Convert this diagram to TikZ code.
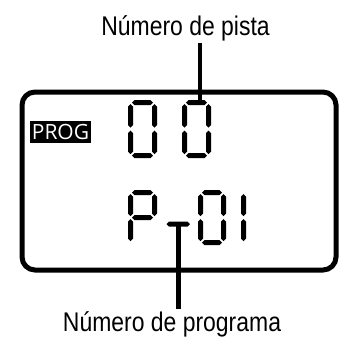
\documentclass[tikz,border=0pt]{standalone}
\usepackage{fontspec}
\setmainfont{Liberation Sans}
\newfontfamily\progfont{Open Sans}
\newcommand\hseg[3]{\fill ({#1},{#3}) -- ({#1+2.5},{#3-2.5}) -- ({#2-2.5},{#3-2.5}) -- ({#2},{#3}) -- ({#2-2.5},{#3+2.5}) -- ({#1+2.5},{#3+2.5}) -- cycle;}
\newcommand\vseg[3]{\fill ({#1},{#2}) -- ({#1+2.5},{#2+2.5}) -- ({#1+2.5},{#3-2.5}) -- ({#1},{#3}) -- ({#1-2.5},{#3-2.5}) -- ({#1-2.5},{#2+2.5}) -- cycle;}
\newcommand\lcdsega{\hseg{\xl+1.5}{\xr-1.5}{\yt}}
\newcommand\lcdsegb{\vseg{\xr}{\yt+1.5}{\ym-1.5}}
\newcommand\lcdsegc{\vseg{\xr}{\ym+1.5}{\yb-1.5}}
\newcommand\lcdsegd{\hseg{\xl+1.5}{\xr-1.5}{\yb}}
\newcommand\lcdsege{\vseg{\xl}{\ym+1.5}{\yb-1.5}}
\newcommand\lcdsegf{\vseg{\xl}{\yt+1.5}{\ym-1.5}}
\newcommand\lcdsegg{\hseg{\xl+1.5}{\xr-1.5}{\ym}}
\newcommand\lcddigit[5]{%
  \pgfmathsetmacro\xl{#1+2.5}\pgfmathsetmacro\xr{#1+#3-2.5}%
  \pgfmathsetmacro\yt{#2+2.5}\pgfmathsetmacro\yb{#2+#4-2.5}\pgfmathsetmacro\ym{#2+#4/2}%
  \foreach \s in {#5}{\csname lcdseg\s\endcsname}}
\tikzset{
  frame/.style={line width=5pt, rounded corners=13pt},
  conn/.style={line width=4.5pt},
  lbl/.style={font=\fontsize{27}{30}\selectfont, inner sep=2pt, anchor=base},
  progbox/.style={fill=black, text=white, font=\progfont\fontsize{21}{22}\selectfont, minimum width=61pt, minimum height=22pt, inner sep=0pt}
}
\begin{document}
\begin{tikzpicture}[x=1pt,y=-1pt]
\useasboundingbox (0,0) rectangle (339,338);
\draw[frame] (22,92) rectangle (336,270);
\node[progbox] (prog) at (60.5,132) {PROG};
% top row 0 0
\lcddigit{128}{100}{29}{58}{a,b,c,d,e,f}
\lcddigit{182}{100}{29}{58}{a,b,c,d,e,f}
% bottom row P-01
\lcddigit{128}{190}{29}{55}{a,b,f,g,e}
\hseg{166.5}{190}{224}
\lcddigit{198}{190}{28}{55}{a,b,c,d,e,f}
\lcddigit{217}{190}{29}{55}{b,c}
\node[lbl] (toplabel) at (185.5,35) {\scalebox{0.85}[1]{Número de pista}};
\node[lbl] (botlabel) at (172,331.5) {\scalebox{0.85}[1]{Número de programa}};
\coordinate (trackseg) at (200,101);
\coordinate (dashseg) at (178.5,224);
\draw[conn] (toplabel.south -| trackseg) -- (trackseg);
\draw[conn] (dashseg) -- (botlabel.north -| dashseg);
\end{tikzpicture}
\end{document}
